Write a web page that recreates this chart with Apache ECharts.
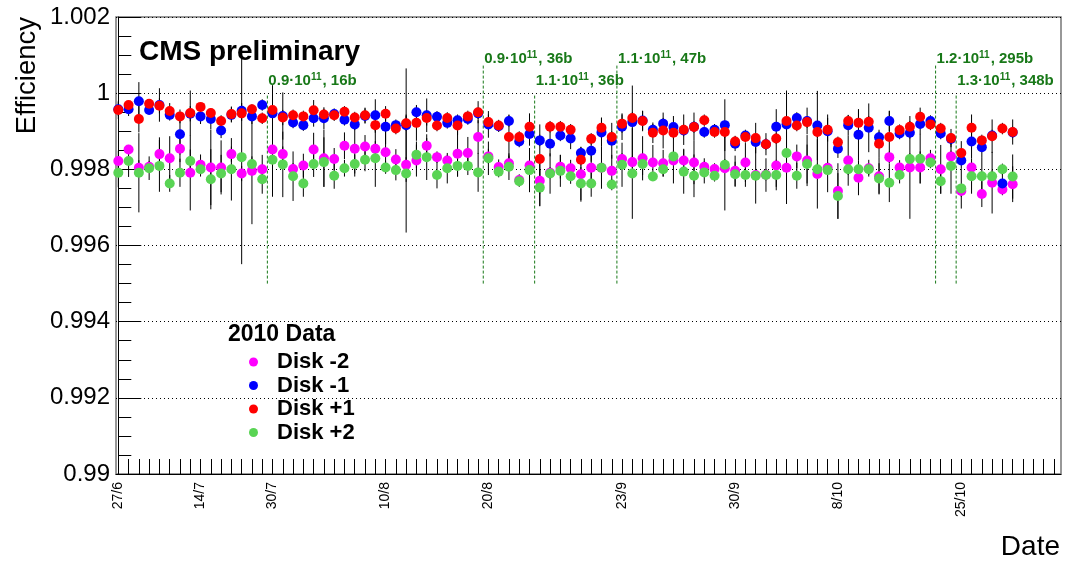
<!DOCTYPE html>
<html>
<head>
<meta charset="utf-8">
<script src="https://cdn.jsdelivr.net/npm/echarts@6/dist/echarts.min.js"></script>
<style>
  html, body { margin: 0; padding: 0; background: #fff; }
  #chart { width: 1065px; height: 563px; }
</style>
</head>
<body>
<div id="chart"></div>
<script>
// ---- data -------------------------------------------------------------
// run bins along the x axis (one point per bin), labelled with a few dates
const nBins = 92;
const dateTickBins = [0, 8, 15, 26, 36, 49, 60, 70, 82];
const dateTicks = ['27/6', '14/7', '30/7', '10/8', '20/8', '23/9', '30/9', '8/10', '25/10'];

// efficiency per bin for each endcap disk
const diskM2 = [0.99822,0.99852,0.99804,0.99807,0.99840,0.99829,0.99854,0.99791,0.99812,0.99805,
  0.99805,0.99840,0.99789,0.99796,0.99800,0.99852,0.99840,0.99801,0.99810,0.99852,
  0.99829,0.99827,0.99862,0.99854,0.99860,0.99854,0.99845,0.99826,0.99812,0.99823,
  0.99862,0.99832,0.99823,0.99841,0.99843,0.99885,0.99834,0.99806,0.99816,0.99772,
  0.99810,0.99770,0.99791,0.99807,0.99803,0.99787,0.99804,0.99804,0.99796,0.99827,
  0.99819,0.99829,0.99818,0.99816,0.99823,0.99823,0.99818,0.99807,0.99801,0.99803,
  0.99796,0.99818,0.99785,0.99786,0.99810,0.99804,0.99834,0.99823,0.99788,0.99804,
  0.99743,0.99823,0.99778,0.99803,0.99782,0.99832,0.99805,0.99805,0.99805,0.99829,
  0.99800,0.99834,0.99743,0.99805,0.99735,0.99765,0.99747,0.99761];
const diskM1 = [0.99958,0.99958,0.99979,0.99956,0.99969,0.99943,0.99892,0.99946,0.99939,0.99932,
  0.99902,0.99943,0.99954,0.99939,0.99969,0.99947,0.99940,0.99923,0.99916,0.99934,
  0.99934,0.99945,0.99930,0.99918,0.99940,0.99942,0.99912,0.99916,0.99916,0.99950,
  0.99942,0.99938,0.99922,0.99929,0.99932,0.99947,0.99918,0.99913,0.99927,0.99873,
  0.99893,0.99876,0.99867,0.99889,0.99881,0.99843,0.99849,0.99897,0.99875,0.99912,
  0.99924,0.99928,0.99904,0.99920,0.99911,0.99902,0.99912,0.99898,0.99904,0.99916,
  0.99867,0.99889,0.99872,0.99866,0.99912,0.99918,0.99935,0.99927,0.99915,0.99900,
  0.99854,0.99916,0.99891,0.99909,0.99884,0.99927,0.99894,0.99896,0.99919,0.99927,
  0.99894,0.99880,0.99823,0.99873,0.99858,0.99889,0.99763,0.99897];
const diskP1 = [0.99956,0.99969,0.99932,0.99972,0.99967,0.99953,0.99939,0.99948,0.99964,0.99948,
  0.99927,0.99945,0.99947,0.99958,0.99934,0.99956,0.99936,0.99942,0.99939,0.99955,
  0.99944,0.99942,0.99951,0.99936,0.99942,0.99916,0.99946,0.99907,0.99921,0.99922,
  0.99935,0.99915,0.99935,0.99915,0.99939,0.99950,0.99924,0.99915,0.99885,0.99885,
  0.99912,0.99827,0.99912,0.99912,0.99904,0.99825,0.99880,0.99909,0.99885,0.99920,
  0.99935,0.99927,0.99896,0.99902,0.99896,0.99904,0.99911,0.99929,0.99898,0.99898,
  0.99873,0.99885,0.99882,0.99866,0.99881,0.99927,0.99915,0.99924,0.99898,0.99904,
  0.99871,0.99927,0.99922,0.99925,0.99867,0.99885,0.99903,0.99912,0.99938,0.99918,
  0.99907,0.99882,0.99843,0.99909,0.99876,0.99887,0.99907,0.99898];
const diskP2 = [0.99791,0.99822,0.99791,0.99803,0.99809,0.99763,0.99791,0.99822,0.99800,0.99774,
  0.99789,0.99800,0.99832,0.99814,0.99774,0.99825,0.99813,0.99782,0.99763,0.99814,
  0.99819,0.99783,0.99803,0.99814,0.99825,0.99829,0.99805,0.99798,0.99789,0.99838,
  0.99832,0.99785,0.99803,0.99809,0.99809,0.99792,0.99829,0.99794,0.99807,0.99769,
  0.99798,0.99752,0.99789,0.99796,0.99782,0.99763,0.99763,0.99804,0.99760,0.99812,
  0.99789,0.99814,0.99781,0.99800,0.99834,0.99794,0.99783,0.99792,0.99783,0.99812,
  0.99787,0.99785,0.99783,0.99785,0.99785,0.99843,0.99783,0.99814,0.99800,0.99798,
  0.99730,0.99800,0.99800,0.99800,0.99776,0.99765,0.99785,0.99827,0.99828,0.99818,
  0.99769,0.99809,0.99750,0.99782,0.99782,0.99782,0.99800,0.99781];

// statistical uncertainty per bin, in units of 1e-4
const errM2 = [2.7,1.0,2.0,1.5,4.4,5.8,3.5,9.9,2.7,9.9, 7.1,2.0,2.0,14.0,3.8,2.0,2.0,1.5,3.1,4.4,
  7.5,2.9,3.5,7.3,3.0,2.0,5.6,2.7,2.0,4.2, 2.0,1.5,1.5,6.0,4.2,4.4,2.0,2.0,2.0,1.5,
  1.5,6.6,1.5,3.1,2.2,7.2,3.5,1.5,4.2,1.5, 1.5,5.8,4.6,3.5,6.0,3.1,5.7,2.2,1.5,11.1,
  4.0,5.1,1.5,1.5,5.6,9.5,3.1,6.7,9.1,1.5, 7.3,6.6,4.6,2.2,4.8,1.5,1.9,13.5,4.2,2.2,
  6.4,1.5,1.5,1.5,3.4,8.1,1.5,4.7];
const errM1 = [1.8,1.8,5.0,1.2,4.4,1.5,5.3,2.0,2.0,2.7, 2.0,2.0,2.0,2.0,1.5,2.0,6.2,1.5,1.5,2.2,
  2.9,1.5,1.5,1.5,2.0,4.2,4.6,1.5,14.9,1.5, 4.4,1.5,1.5,1.5,1.5,1.5,3.5,1.5,1.5,1.5,
  3.1,1.5,3.3,1.5,2.8,1.6,2.9,3.8,4.7,3.5, 9.6,2.5,1.5,1.5,2.9,1.5,3.7,1.5,1.5,6.8,
  1.9,1.5,1.5,2.9,4.6,1.5,1.5,3.5,9.1,4.4, 2.4,2.7,6.7,6.4,1.5,2.7,1.5,1.5,2.7,1.5,
  1.5,1.5,2.0,4.5,2.8,1.5,2.5,1.5];
const errP1 = [2.4,1.0,3.5,1.0,2.0,2.1,1.8,5.9,0.8,1.2, 1.5,2.0,2.0,1.3,1.5,6.5,2.0,1.5,1.5,2.7,
  1.5,1.5,1.5,1.5,2.0,2.0,2.0,1.5,2.0,4.7, 2.0,1.5,1.5,2.5,1.5,2.9,2.0,1.5,5.9,1.5,
  3.5,9.1,1.5,1.5,1.5,1.5,1.5,2.7,1.5,2.4, 1.5,2.7,2.7,4.7,1.5,4.0,1.5,1.5,1.5,1.5,
  1.5,1.5,4.0,1.5,1.5,8.0,1.5,1.5,1.5,3.1, 1.5,1.5,3.5,1.5,3.7,6.8,1.5,1.5,2.4,1.5,
  1.5,2.4,3.1,3.5,1.5,4.4,1.5,3.3];
const errP2 = [3.8,4.2,10.4,3.1,6.8,2.2,3.7,3.0,1.9,7.9, 4.9,8.2,28.1,2.0,3.8,9.7,8.6,6.5,3.5,3.4,
  6.5,3.4,2.2,2.5,3.0,7.5,1.6,2.7,15.5,3.5, 6.0,3.5,4.0,2.8,2.4,5.1,4.4,1.5,3.5,1.5,
  5.8,4.9,5.3,4.2,2.0,4.4,3.5,5.5,1.5,5.8, 11.9,2.9,1.0,1.9,1.5,5.8,5.6,2.9,1.5,1.5,
  3.3,3.1,7.3,4.4,4.0,1.5,3.4,5.1,1.5,5.8, 6.0,1.5,1.5,1.5,4.0,5.1,2.2,1.5,6.5,1.5,
  3.3,7.3,5.3,4.6,4.8,1.5,1.5,5.8];

// LHC filling-scheme changes: bin edge, bunch intensity (x10^11) and number of bunches
const fillEdges = [14.5, 35.5, 40.5, 48.5, 79.5, 81.5];
const fillIntensity = ['0.9', '0.9', '1.1', '1.1', '1.2', '1.3'];
const fillBunches = ['16b', '36b', '36b', '47b', '295b', '348b'];

// ---- chart ------------------------------------------------------------
const FONT = '"Liberation Sans", Arial, Helvetica, sans-serif';
const ANNOT = '#187818';
const disks = [
  { name: 'Disk -2', values: diskM2, errors: errM2, color: '#ff00ff' },
  { name: 'Disk -1', values: diskM1, errors: errM1, color: '#0000ff' },
  { name: 'Disk +1', values: diskP1, errors: errP1, color: '#ff0000' },
  { name: 'Disk +2', values: diskP2, errors: errP2, color: '#59d454' }
];
// annotations placed on the upper or lower text row
const labelRaised = [false, true, false, true, true, false];

const binTicks = [];
for (let i = 0; i < nBins; i++) binTicks.push(i);

const series = [];
disks.forEach(d => {
  series.push({
    name: d.name + ' errors',
    type: 'custom',
    silent: true,
    data: d.values.map((v, i) => [i, v, d.errors[i] * 1e-4]),
    encode: { x: 0, y: 1 },
    renderItem(params, api) {
      const x = api.value(0), v = api.value(1), e = api.value(2);
      const p1 = api.coord([x, v - e]);
      const p2 = api.coord([x, v + e]);
      return {
        type: 'line',
        shape: { x1: p1[0], y1: p1[1], x2: p2[0], y2: p2[1] },
        style: { stroke: '#000', lineWidth: 1 }
      };
    }
  });
  series.push({
    name: d.name,
    type: 'scatter',
    silent: true,
    symbol: 'circle',
    symbolSize: 10,
    itemStyle: { color: d.color, opacity: 1 },
    data: d.values.map((v, i) => [i, v])
  });
});

// dashed markers for filling-scheme changes with their labels
series.push({
  name: 'fills',
  type: 'custom',
  silent: true,
  data: fillEdges.map((b, j) => [b, j]),
  encode: { x: 0 },
  renderItem(params, api) {
    const b = api.value(0), j = api.value(1);
    const raised = labelRaised[j];
    const bottom = api.coord([b, 0.995]);
    const top = api.coord([b, raised ? 1.00074 : 0.99995]);
    const txt = api.coord([b, raised ? 1.0009 : 1.00032]);
    return {
      type: 'group',
      children: [
        { type: 'line',
          shape: { x1: bottom[0], y1: bottom[1], x2: top[0], y2: top[1] },
          style: { stroke: ANNOT, lineWidth: 1, lineDash: [3, 2] } },
        { type: 'text',
          x: txt[0] + 1, y: txt[1],
          style: {
            text: '{a|' + fillIntensity[j] + '·10}{s|11}{a|, ' + fillBunches[j] + '}',
            align: 'left', verticalAlign: 'middle',
            rich: {
              a: { fontFamily: FONT, fontWeight: 'bold', fontSize: 15, fill: ANNOT, color: ANNOT,
                   lineHeight: 17 },
              s: { fontFamily: FONT, fontWeight: 'bold', fontSize: 10, fill: ANNOT, color: ANNOT,
                   lineHeight: 17, verticalAlign: 'top', padding: [0, 1, 0, 0] }
            }
          } }
      ]
    };
  }
});

const chart = echarts.init(document.getElementById('chart'), null, { renderer: 'canvas' });
chart.setOption({
  animation: false,
  backgroundColor: '#fff',
  grid: { left: 116, right: 4, top: 17, bottom: 89, show: true, borderColor: '#777', borderWidth: 1.5 },
  xAxis: {
    type: 'value',
    min: -0.224,
    max: 91.7,
    axisLine: { show: true, onZero: false, lineStyle: { color: '#000', width: 1 } },
    axisTick: { show: true, inside: true, length: 15, customValues: binTicks,
                lineStyle: { color: '#000', width: 1 } },
    axisLabel: {
      customValues: dateTickBins,
      formatter: v => dateTicks[dateTickBins.indexOf(Math.round(v))],
      rotate: 90, margin: 8, fontSize: 14, fontFamily: FONT, color: '#000'
    },
    splitLine: { show: false }
  },
  yAxis: {
    type: 'value',
    min: 0.99,
    max: 1.002,
    interval: 0.002,
    axisLine: { show: true, lineStyle: { color: '#000', width: 1 } },
    axisTick: { show: true, inside: true, length: 23, lineStyle: { color: '#000' } },
    minorTick: { show: true, splitNumber: 4, length: 13, lineStyle: { color: '#000' } },
    axisLabel: {
      formatter: v => String(parseFloat(v.toFixed(3))),
      margin: 6, fontSize: 24, fontFamily: FONT, color: '#000'
    },
    splitLine: { show: true, lineStyle: { color: '#000', width: 1, type: [1, 3] } }
  },
  legend: {
    orient: 'vertical',
    left: 244, top: 346,
    itemWidth: 9, itemHeight: 9, itemGap: 1.5,
    icon: 'circle',
    selectedMode: false,
    data: disks.map(d => d.name),
    textStyle: { fontFamily: FONT, fontWeight: 'bold', fontSize: 22, color: '#000',
                 padding: [0, 0, 0, 14] }
  },
  graphic: [
    { type: 'text', left: 139, top: 38,
      style: { text: 'CMS preliminary', font: 'bold 28px ' + FONT, fill: '#000' } },
    { type: 'text', left: 228, top: 323,
      style: { text: '2010 Data', font: 'bold 23px ' + FONT, fill: '#000' } },
    { type: 'text', x: 1060, y: 547,
      style: { text: 'Date', font: '28px ' + FONT, fill: '#000', align: 'right', verticalAlign: 'middle' } },
    { type: 'text', x: 27, y: 17, rotation: Math.PI / 2,
      style: { text: 'Efficiency', font: '27.5px ' + FONT, fill: '#000', align: 'right', verticalAlign: 'middle' } }
  ],
  series: series
});
</script>
</body>
</html>
